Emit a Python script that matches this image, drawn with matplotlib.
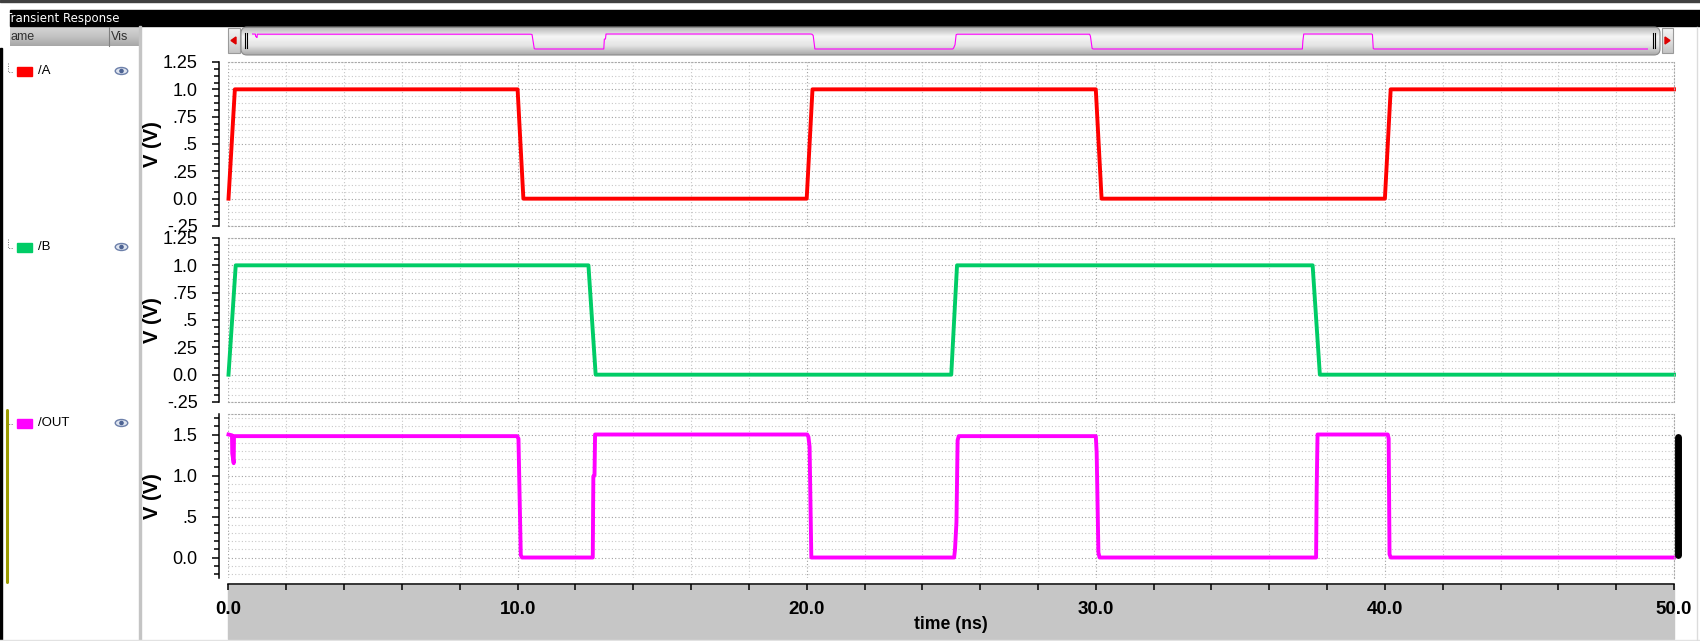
import numpy as np
import matplotlib.pyplot as plt
from matplotlib.patches import Rectangle, FancyBboxPatch, Ellipse, Circle, Polygon
from matplotlib.colors import LinearSegmentedColormap
from matplotlib.ticker import MultipleLocator

plt.rcParams['font.family'] = ['Liberation Sans', 'DejaVu Sans']

W, H = 1700, 641

# ===== Waveform breakpoints (time in ns, voltage in V) =====
a_t = [0.0, 0.22, 10.0, 10.2, 20.0, 20.2, 30.0, 30.2, 40.0, 40.2, 50.0]
a_v = [0.0, 1.0, 1.0, 0.0, 0.0, 1.0, 1.0, 0.0, 0.0, 1.0, 1.0]

b_t = [0.0, 0.25, 12.45, 12.7, 25.0, 25.2, 37.5, 37.75, 50.0]
b_v = [0.0, 1.0, 1.0, 0.0, 0.0, 1.0, 1.0, 0.0, 0.0]

out_t = [0.0, 0.12, 0.13, 0.16, 0.18, 0.19,
         9.98, 10.03, 10.07, 10.11, 10.15,
         12.6, 12.62, 12.66, 12.68,
         20.02, 20.06, 20.1, 20.16,
         25.1, 25.13, 25.18, 25.22, 25.26,
         30.0, 30.03, 30.09, 30.13,
         37.62, 37.64, 37.67,
         40.1, 40.13, 40.16, 40.2, 50.0]
out_v = [1.5, 1.49, 1.27, 1.2, 1.15, 1.48,
         1.48, 1.45, 0.74, 0.03, 0.0,
         0.0, 0.99, 1.0, 1.5,
         1.5, 1.47, 1.35, 0.0,
         0.0, 0.1, 0.43, 1.43, 1.48,
         1.48, 1.28, 0.06, 0.0,
         0.0, 0.83, 1.5,
         1.5, 1.45, 0.04, 0.0, 0.0]

ab_ticks = [-0.25, 0.0, 0.25, 0.5, 0.75, 1.0, 1.25]
ab_labels = ['-.25', '0.0', '.25', '.5', '.75', '1.0', '1.25']
out_ticks = [0.0, 0.5, 1.0, 1.5]
out_labels = ['0.0', '.5', '1.0', '1.5']
time_ticks = [0, 10, 20, 30, 40, 50]
time_labels = ['0.0', '10.0', '20.0', '30.0', '40.0', '50.0']

names = ['/A', '/B', '/OUT']
colors = ['#ff0000', '#00cc66', '#ff00ff']

# marker bar at the right of the OUT panel
cursor_t = 50.14
cursor_v = [0.03, 1.47]


def box(x0, y0, x1, y1):
    return [x0 / W, 1 - y1 / H, (x1 - x0) / W, (y1 - y0) / H]


def gradient(ax, x0, y0, x1, y1, cols, clip=None):
    cmap = LinearSegmentedColormap.from_list('g', cols)
    im = ax.imshow(np.linspace(0, 1, 64).reshape(-1, 1), cmap=cmap,
                   extent=(x0, x1, y1, y0), aspect='auto', interpolation='bilinear')
    if clip is not None:
        im.set_clip_path(clip)
    return im


fig = plt.figure(figsize=(W / 100, H / 100), dpi=100)

# ===== Window chrome (pixel coordinates) =====
bg = fig.add_axes([0, 0, 1, 1])
bg.axis('off')

bg.add_patch(Rectangle((0, 0), W, 1.6, color='#404040'))
bg.add_patch(Rectangle((10, 10), W - 10, 16, color='black'))
bg.text(5, 18.5, 'Transient Response', color='white', fontsize=8.5,
        family='DejaVu Sans', va='center', ha='left')

# left list header
gradient(bg, 10, 26, 139, 46, ['#d6d6d6', '#c4c4c4', '#a6a6a6'])
bg.plot([109, 109], [27, 46], color='#808080', lw=0.8)
bg.text(11, 36.5, 'ame', fontsize=9, color='#303030', va='center')
bg.text(111, 36.5, 'Vis', fontsize=9, color='#303030', va='center')
bg.add_patch(Rectangle((139.5, 26), 2, H - 26, color='#c4c4c4'))
bg.add_patch(Rectangle((0, 48), 1.8, H - 48, color='black'))
bg.plot([0, W], [639.8, 639.8], color='#e2e2e2', lw=1)
bg.plot([1697, 1697], [27, H], color='#dcdcdc', lw=1)

# legend rows
for name, col, y in zip(names, colors, [71, 247, 423]):
    bg.plot([8, 8, 13], [y - 8, y + 1, y + 1], color='#707070', lw=0.7, ls=(0, (1, 1.5)))
    bg.add_patch(Rectangle((17, y - 4.5), 15, 9, color=col))
    bg.text(38, y, name, fontsize=9.5, color='black', va='center')
    bg.add_patch(Ellipse((121.5, y), 12.5, 7, fc='#dfe5f0', ec='#6d80aa', lw=1))
    bg.add_patch(Circle((121.5, y), 2.3, fc='#4d6393', ec='none'))

bg.plot([7.2, 7.2], [410, 582], color='#9a9a00', lw=2.2, solid_capstyle='round')

# scrollbar
thumb = FancyBboxPatch((241, 27), 1419, 28, boxstyle='round,pad=0,rounding_size=6',
                       fc='none', ec='#8a8a8a', lw=0.8)
bg.add_patch(thumb)
gradient(bg, 241, 27, 1660, 55, ['#b4b4b4', '#f6f6f6', '#e4e4e4', '#a8a8a8'], clip=thumb)
for gx in (245, 247.5, 1653, 1655.5):
    bg.plot([gx, gx], [33, 48], color='black', lw=0.8)
for bx0, bx1, tri in ((228, 240, [(236, 37), (236, 44), (231, 40.5)]),
                      (1662, 1673, [(1665, 37), (1665, 44), (1670, 40.5)])):
    btn = Rectangle((bx0, 28), bx1 - bx0, 25, fc='none', ec='#9a9a9a', lw=0.8)
    bg.add_patch(btn)
    gradient(bg, bx0, 28, bx1, 53, ['#f4f4f4', '#e0e0e0', '#c4c4c4'], clip=btn)
    bg.add_patch(Polygon(tri, color='#dd0000'))

# time axis band
bg.add_patch(Rectangle((228.5, 585), 1674 - 228.5, 54, color='#c6c6c6'))

bg.set_xlim(0, W)
bg.set_ylim(H, 0)

# overview trace in scrollbar
ov = fig.add_axes(box(252, 29, 1648, 53))
ov.plot(out_t, out_v, color='#ff00ff', lw=0.8)
ov.set_xlim(0, 50)
ov.set_ylim(-0.4, 2.0)
ov.axis('off')

# ===== Signal panels =====
panels = [
    (a_t, a_v, colors[0], 62, 226, (-0.25, 1.25), ab_ticks, ab_labels, 0.0625),
    (b_t, b_v, colors[1], 238, 402, (-0.25, 1.25), ab_ticks, ab_labels, 0.0625),
    (out_t, out_v, colors[2], 414, 578, (-0.25, 1.75), out_ticks, out_labels, 0.1),
]

dots = (0, (1, 2))
for i, (t, v, col, top, bot, ylim, yt, yl, ystep) in enumerate(panels):
    ax = fig.add_axes(box(228.5, top, 1674, bot))
    ax.plot(t, v, color=col, lw=2.8, clip_on=False)
    ax.set_xlim(0, 50)
    ax.set_ylim(*ylim)
    ax.set_axisbelow(True)

    ax.set_yticks(yt, yl)
    ax.yaxis.set_minor_locator(MultipleLocator(ystep))
    ax.set_xticks(time_ticks)
    ax.xaxis.set_minor_locator(MultipleLocator(2))
    ax.tick_params(axis='y', which='major', direction='out', length=5, width=1.1,
                   pad=10.5, labelsize=13)
    ax.tick_params(axis='y', which='minor', direction='out', length=3.6, width=1.1)
    for lbl in ax.get_yticklabels():
        lbl.set_fontweight('bold')

    ax.grid(which='major', color='#a0a0a0', ls=dots, lw=0.8)
    ax.grid(which='minor', color='#c8c8c8', ls=dots, lw=0.8)

    ax.spines['left'].set_position(('outward', 6.8))
    ax.spines['left'].set_linewidth(1.1)
    for s in ('top', 'right', 'bottom'):
        ax.spines[s].set_linestyle(dots)
        ax.spines[s].set_color('#a8a8a8')
        ax.spines[s].set_linewidth(0.8)

    ax.set_ylabel('V (V)', fontsize=14.5, fontweight='bold', va='center')
    ax.yaxis.set_label_coords(-0.0529, 0.5)

    if i < 2:
        ax.tick_params(axis='x', which='both', length=0, labelbottom=False)
    else:
        ax.spines['bottom'].set_position(('outward', 4.3))
        ax.spines['bottom'].set_linestyle('-')
        ax.spines['bottom'].set_color('black')
        ax.spines['bottom'].set_linewidth(1.1)
        ax.set_xticks(time_ticks, time_labels)
        ax.tick_params(axis='x', which='both', direction='out', length=4.3, width=1.1,
                       pad=7.8, labelsize=13.5)
        for lbl in ax.get_xticklabels():
            lbl.set_fontweight('bold')
        ax.set_xlabel('time (ns)', fontsize=12.7, fontweight='bold', labelpad=-1)
        ax.plot([cursor_t, cursor_t], cursor_v, color='black', lw=5,
                solid_capstyle='round', clip_on=False)

fig.savefig('out.png', dpi=100)
